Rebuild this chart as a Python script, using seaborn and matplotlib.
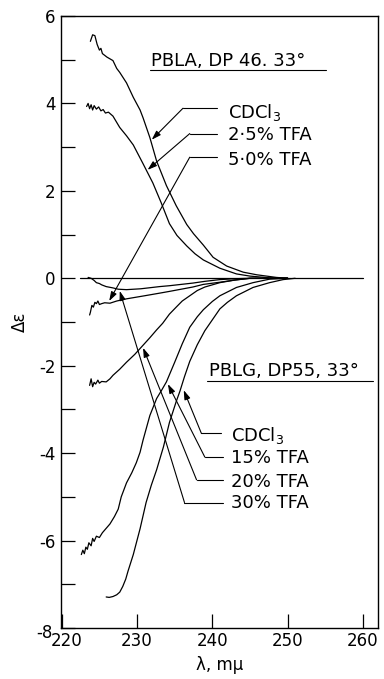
import matplotlib
matplotlib.use("Agg")
import matplotlib.pyplot as plt
import matplotlib.transforms as mtransforms
import pandas as pd
import seaborn as sns

sns.set_style("ticks")
plt.rcParams["font.family"] = ["DejaVu Sans"]
plt.rcParams["axes.unicode_minus"] = False
plt.rcParams["text.color"] = "black"
plt.rcParams["axes.labelcolor"] = "black"
plt.rcParams["xtick.color"] = "black"
plt.rcParams["ytick.color"] = "black"

# ---------------- data ----------------
# PBLA, DP 46, 33 deg
pbla_cdcl3_wl = [223.8, 224.1, 224.4, 224.7, 225.0, 225.2, 225.4, 225.7, 226.0, 226.4,
                 226.8, 227.3, 227.7, 228.6, 229.5, 230.4, 230.8, 231.7, 232.6, 233.9,
                 235.2, 236.6, 237.5, 238.8, 240.1, 241.9, 244.1, 245.9, 248.5, 250.0]
pbla_cdcl3_de = [5.42, 5.57, 5.55, 5.35, 5.22, 5.26, 5.14, 5.10, 5.06, 5.02,
                 4.98, 4.80, 4.71, 4.47, 4.14, 3.85, 3.67, 3.22, 2.68, 2.12,
                 1.66, 1.23, 1.02, 0.76, 0.48, 0.28, 0.14, 0.08, 0.02, 0.0]

pbla_tfa25_wl = [223.3, 223.5, 223.7, 223.9, 224.1, 224.3, 224.6, 224.9, 225.2, 225.5,
                 225.8, 226.2, 226.8, 227.7, 228.6, 229.5, 230.8, 232.1, 233.2, 234.3,
                 235.3, 236.6, 237.7, 238.8, 241.0, 243.2, 245.0, 247.6, 250.0]
pbla_tfa25_de = [3.93, 4.00, 3.88, 3.97, 3.85, 3.95, 3.87, 3.92, 3.83, 3.86,
                 3.78, 3.80, 3.71, 3.45, 3.26, 3.05, 2.62, 2.18, 1.73, 1.25,
                 0.98, 0.74, 0.56, 0.42, 0.23, 0.10, 0.05, 0.01, 0.0]

pbla_tfa50_wl = [223.7, 223.8, 224.0, 224.2, 224.4, 224.6, 224.8, 225.0, 225.3, 225.7,
                 226.4, 227.3, 228.6, 231.0, 233.0, 234.3, 237.4, 238.8, 241.0, 243.0,
                 245.0, 250.0]
pbla_tfa50_de = [-0.84, -0.78, -0.62, -0.66, -0.55, -0.58, -0.52, -0.60, -0.58, -0.56,
                 -0.57, -0.52, -0.47, -0.40, -0.34, -0.30, -0.20, -0.14, -0.09, -0.04,
                 0.0, 0.0]

# PBLG, DP 55, 33 deg
pblg_cdcl3_wl = [225.9, 226.3, 226.8, 227.3, 227.7, 228.1, 228.5, 228.8, 229.5, 230.4,
                 231.2, 231.9, 232.6, 233.5, 234.3, 235.2, 235.7, 236.3, 237.0, 238.0,
                 239.0, 240.0, 241.0, 242.0, 243.2, 245.4, 247.6, 249.4, 251.0]
pblg_cdcl3_de = [-7.29, -7.30, -7.28, -7.24, -7.18, -7.05, -6.88, -6.70, -6.32, -5.73,
                 -5.13, -4.73, -4.38, -3.86, -3.30, -2.82, -2.58, -2.25, -1.90, -1.52,
                 -1.20, -0.95, -0.70, -0.55, -0.40, -0.21, -0.10, -0.03, 0.0]

pblg_tfa15_wl = [222.6, 222.8, 223.0, 223.2, 223.4, 223.6, 223.9, 224.1, 224.3, 224.6,
                 225.0, 225.4, 225.9, 226.4, 227.0, 227.5, 227.9, 228.6, 229.3, 229.9,
                 230.4, 230.8, 231.7, 232.6, 233.3, 233.9, 235.0, 236.0, 237.0, 238.0,
                 238.8, 240.0, 241.0, 243.2, 245.4, 247.6, 250.0]
pblg_tfa15_de = [-6.32, -6.22, -6.30, -6.15, -6.20, -6.05, -6.12, -5.95, -6.02, -5.90,
                 -5.93, -5.82, -5.72, -5.62, -5.45, -5.28, -5.00, -4.68, -4.45, -4.22,
                 -3.98, -3.70, -3.14, -2.75, -2.55, -2.37, -1.92, -1.50, -1.12, -0.88,
                 -0.72, -0.53, -0.40, -0.21, -0.10, -0.02, 0.0]

pblg_tfa20_wl = [223.7, 223.9, 224.1, 224.3, 224.5, 224.8, 225.0, 225.3, 225.9, 226.4,
                 226.8, 227.7, 228.6, 229.7, 230.7, 231.7, 232.6, 233.4, 234.3, 235.2,
                 236.0, 237.0, 238.0, 239.0, 241.0, 243.0, 245.0, 250.0]
pblg_tfa20_de = [-2.45, -2.30, -2.48, -2.38, -2.42, -2.33, -2.40, -2.36, -2.37, -2.30,
                 -2.22, -2.08, -1.92, -1.74, -1.55, -1.36, -1.18, -1.03, -0.82, -0.66,
                 -0.52, -0.40, -0.28, -0.20, -0.10, -0.04, 0.0, 0.0]

pblg_tfa30_wl = [223.5, 223.9, 224.3, 224.6, 225.0, 225.3, 225.9, 226.8, 227.5, 228.6,
                 230.5, 233.0, 234.3, 237.4, 239.0, 241.0, 243.0, 245.0, 250.0]
pblg_tfa30_de = [0.02, 0.0, -0.05, -0.10, -0.12, -0.15, -0.19, -0.22, -0.25, -0.26,
                 -0.24, -0.19, -0.17, -0.11, -0.07, -0.03, -0.01, 0.0, 0.0]

baseline_wl = [222.4, 260.0]
baseline_de = [0.0, 0.0]

x_ticks = [220, 230, 240, 250, 260]
y_ticks = [-8, -6, -4, -2, 0, 2, 4, 6]

# ---------------- build table ----------------
series = {
    "PBLA CDCl3": (pbla_cdcl3_wl, pbla_cdcl3_de),
    "PBLA 2.5% TFA": (pbla_tfa25_wl, pbla_tfa25_de),
    "PBLA 5.0% TFA": (pbla_tfa50_wl, pbla_tfa50_de),
    "PBLG CDCl3": (pblg_cdcl3_wl, pblg_cdcl3_de),
    "PBLG 15% TFA": (pblg_tfa15_wl, pblg_tfa15_de),
    "PBLG 20% TFA": (pblg_tfa20_wl, pblg_tfa20_de),
    "PBLG 30% TFA": (pblg_tfa30_wl, pblg_tfa30_de),
    "baseline": (baseline_wl, baseline_de),
}
df = pd.concat(
    [pd.DataFrame({"wavelength": w, "delta_eps": d, "curve": k}) for k, (w, d) in series.items()],
    ignore_index=True,
)

# ---------------- figure ----------------
fig = plt.figure(figsize=(3.84, 6.79), dpi=100)
ax = fig.add_axes([61 / 384, 1 - 628 / 679, 317 / 384, 612 / 679])

sns.lineplot(data=df, x="wavelength", y="delta_eps", units="curve", estimator=None,
             sort=False, color="black", lw=0.9, ax=ax, legend=False)

ax.set_xlim(219.9, 262)
ax.set_ylim(-8, 6)
ax.set_xticks(x_ticks)
ax.set_yticks(y_ticks)
ax.set_yticks(list(range(-7, 6, 2)), minor=True)
ax.tick_params(axis="both", direction="in", length=10, width=0.9, labelsize=12,
               color="black", labelcolor="black")
ax.tick_params(axis="y", which="minor", direction="in", length=10, width=0.9)
ax.tick_params(axis="y", pad=4)
ax.tick_params(axis="x", pad=3)
for s in ax.spines.values():
    s.set_visible(True)
    s.set_linewidth(1.0)
    s.set_color("black")

ax.set_xlabel("λ, mμ", fontsize=12, labelpad=4, color="black")
ax.set_ylabel("Δε", fontsize=12, labelpad=5, color="black")

# nudge the corner labels apart as in the reference
fig.canvas.draw()
xl0 = ax.xaxis.get_major_ticks()[0].label1
xl0.set_transform(xl0.get_transform() + mtransforms.ScaledTranslation(5 / 100, 0, fig.dpi_scale_trans))
yl0 = ax.yaxis.get_major_ticks()[0].label1
yl0.set_transform(yl0.get_transform() + mtransforms.ScaledTranslation(-3 / 100, -3 / 100, fig.dpi_scale_trans))

FS = 13
arrow_kw = dict(arrowstyle="-|>,head_length=0.55,head_width=0.18", color="black",
                lw=0.8, shrinkA=0, shrinkB=0)


def leader(text, text_xy, h_start, corner, tip):
    ax.text(text_xy[0], text_xy[1], text, fontsize=FS, ha="left", va="center", color="black")
    ax.plot([h_start[0], corner[0]], [h_start[1], corner[1]], color="black", lw=0.8)
    ax.annotate("", xy=tip, xytext=corner, arrowprops=arrow_kw)


# PBLA block
ax.text(231.8, 4.97, "PBLA, DP 46. 33°", fontsize=FS, ha="left", va="center", color="black")
ax.plot([231.7, 255.1], [4.76, 4.76], color="black", lw=0.8)
leader("CDCl$_3$", (242.1, 3.80), (240.6, 3.89), (236.1, 3.89), (231.95, 3.17))
leader("2·5% TFA", (242.1, 3.27), (240.6, 3.31), (237.0, 3.31), (231.4, 2.48))
leader("5·0% TFA", (242.1, 2.71), (240.6, 2.77), (237.0, 2.77), (226.3, -0.52))

# PBLG block
ax.text(239.5, -2.13, "PBLG, DP55, 33°", fontsize=FS, ha="left", va="center", color="black")
ax.plot([239.3, 261.3], [-2.36, -2.36], color="black", lw=0.8)
leader("CDCl$_3$", (242.5, -3.60), (241.2, -3.55), (238.55, -3.55), (236.2, -2.56))
leader("15% TFA", (242.5, -4.12), (241.4, -4.09), (239.0, -4.09), (234.1, -2.42))
leader("20% TFA", (242.5, -4.65), (241.4, -4.61), (237.9, -4.61), (230.8, -1.59))
leader("30% TFA", (242.5, -5.15), (241.4, -5.13), (236.3, -5.13), (227.7, -0.29))

fig.savefig("out.png", dpi=100)
